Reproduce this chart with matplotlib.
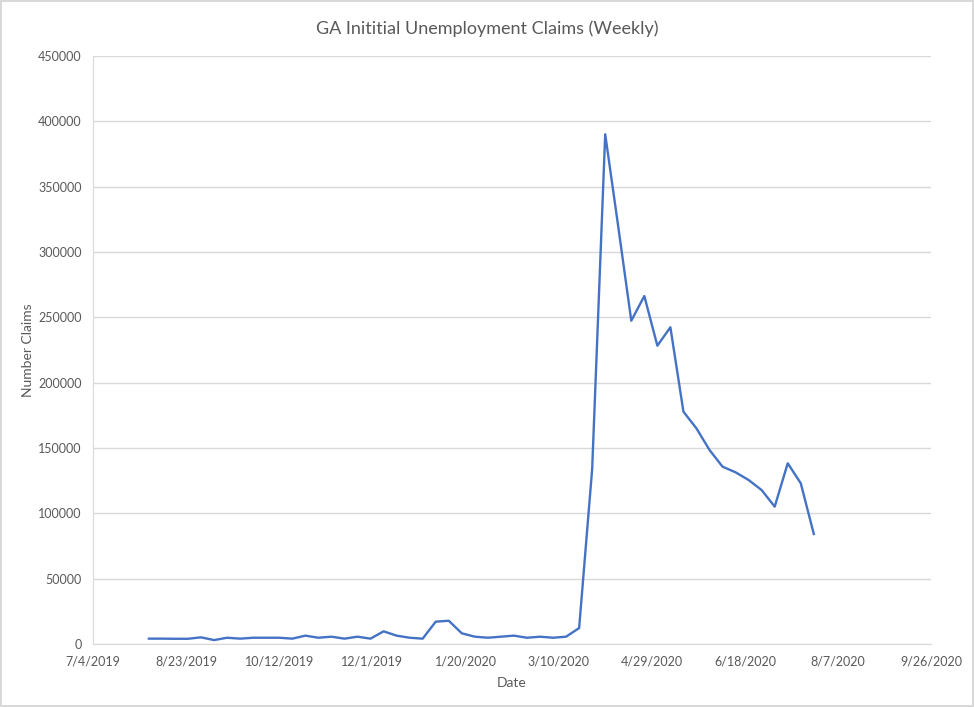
import numpy as np
import pandas as pd
import matplotlib
matplotlib.use("Agg")
import matplotlib.pyplot as plt
import matplotlib.dates as mdates

# weekly claims, week ending Saturdays
first_week = "2019-08-03"
claims = [4100, 4100, 4000, 4000, 5100, 3000, 4800, 4100, 4800, 4800,
          4800, 4100, 6400, 4800, 5600, 4100, 5600, 4100, 9700, 6400,
          4800, 4100, 17100, 17800, 8200, 5600, 4800, 5600, 6400, 4800,
          5600, 4800, 5600, 12200, 134000, 390100, 319400, 247400, 266300, 228300,
          242400, 177800, 165000, 148500, 135700, 131400, 125500, 117800, 105100, 138300,
          123000, 84200]

tick_dates = ["2019-07-04", "2019-08-23", "2019-10-12", "2019-12-01", "2020-01-20",
              "2020-03-10", "2020-04-29", "2020-06-18", "2020-08-07", "2020-09-26"]
tick_labels = ["7/4/2019", "8/23/2019", "10/12/2019", "12/1/2019", "1/20/2020",
               "3/10/2020", "4/29/2020", "6/18/2020", "8/7/2020", "9/26/2020"]
y_ticks = [0, 50000, 100000, 150000, 200000, 250000, 300000, 350000, 400000, 450000]

weeks = pd.date_range(first_week, periods=len(claims), freq="7D")
ticks = pd.to_datetime(tick_dates)

plt.rcParams['font.family'] = ['Lato', 'DejaVu Sans']
txt = '#595959'

fig = plt.figure(figsize=(9.74, 7.07), dpi=100)
fig.patch.set_edgecolor('#d9d9d9')
fig.patch.set_linewidth(1.5)
ax = fig.add_axes([0.0955, 0.0891, 0.8605, 0.8317])

ax.plot(weeks, claims, color='#4472C4', linewidth=1.7)

ax.set_xlim(mdates.date2num(ticks[0]), mdates.date2num(ticks[-1]))
ax.set_xticks(mdates.date2num(ticks))
ax.set_xticklabels(tick_labels)
ax.set_ylim(0, 450000)
ax.set_yticks(y_ticks)
ax.set_yticklabels([str(v) for v in y_ticks])

ax.grid(axis='y', color='#d9d9d9', linewidth=1)
ax.set_axisbelow(True)
for s in ['top', 'right']:
    ax.spines[s].set_visible(False)
for s in ['left', 'bottom']:
    ax.spines[s].set_color('#d9d9d9')
ax.tick_params(length=0, labelsize=9, colors=txt, pad=8)

ax.set_xlabel('Date', fontsize=10, color=txt, labelpad=7)
ax.set_ylabel('Number Claims', fontsize=10, color=txt, labelpad=3)
fig.text(0.5, 0.96, 'GA Inititial Unemployment Claims (Weekly)', ha='center',
         va='center', fontsize=13, color=txt)

fig.savefig('out.png', dpi=100, edgecolor=fig.get_edgecolor())
